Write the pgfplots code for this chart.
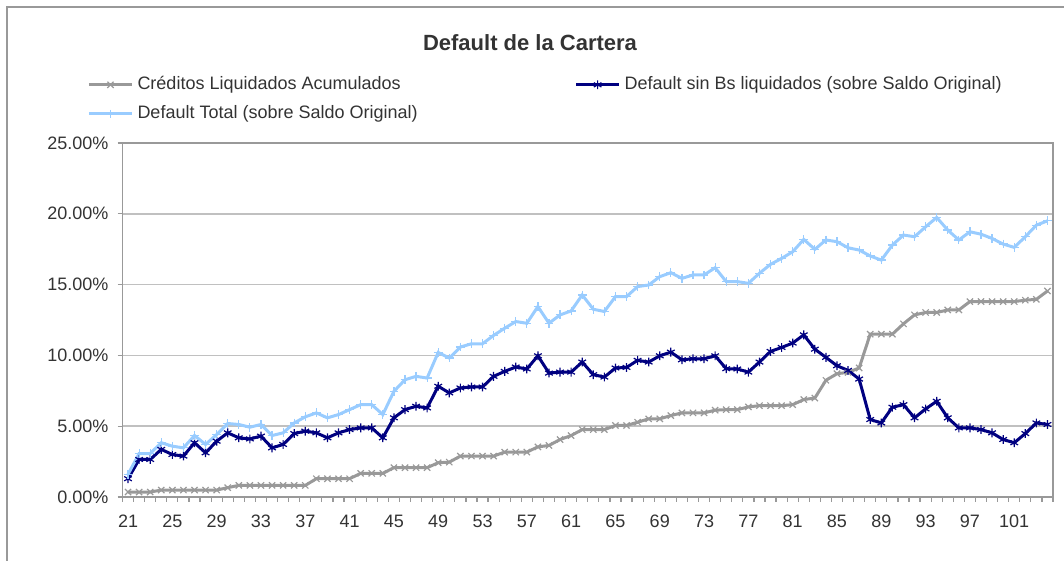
\documentclass[border=0pt]{standalone}
\usepackage{fontspec}
\setmainfont{Liberation Sans}
\usepackage{pgfplots}
\usepackage{pgfplotstable}
\pgfplotsset{compat=1.18}
\definecolor{credgray}{HTML}{999999}
\definecolor{navyblue}{HTML}{000080}
\definecolor{skyblue}{HTML}{99CCFF}
\definecolor{gridgray}{HTML}{C0C0C0}
\definecolor{axisgray}{HTML}{999999}
\definecolor{txt}{HTML}{333333}

% mes, creditos liquidados, default sin Bs, default total (en %)
\pgfplotstableread{
x   liq    sinbs  total
21  0.35   1.29   1.60
22  0.35   2.65   3.07
23  0.35   2.65   3.07
24  0.49   3.36   3.83
25  0.49   3.00   3.59
26  0.49   2.89   3.47
27  0.49   3.83   4.34
28  0.49   3.12   3.71
29  0.49   3.94   4.41
30  0.66   4.53   5.19
31  0.82   4.18   5.12
32  0.82   4.10   4.93
33  0.82   4.30   5.12
34  0.82   3.47   4.34
35  0.82   3.71   4.53
36  0.82   4.48   5.23
37  0.82   4.65   5.66
38  1.29   4.53   5.94
39  1.29   4.18   5.59
40  1.29   4.53   5.82
41  1.29   4.76   6.17
42  1.67   4.88   6.52
43  1.67   4.88   6.52
44  1.67   4.18   5.82
45  2.07   5.59   7.46
46  2.07   6.17   8.28
47  2.07   6.41   8.52
48  2.07   6.29   8.40
49  2.42   7.82   10.21
50  2.46   7.35   9.81
51  2.89   7.70   10.59
52  2.89   7.77   10.82
53  2.89   7.77   10.82
54  2.89   8.52   11.41
55  3.17   8.87   11.92
56  3.17   9.18   12.39
57  3.17   9.04   12.27
58  3.54   9.97   13.45
59  3.64   8.75   12.27
60  4.06   8.82   12.86
61  4.34   8.82   13.14
62  4.76   9.53   14.27
63  4.76   8.64   13.26
64  4.76   8.47   13.10
65  5.05   9.11   14.15
66  5.05   9.15   14.15
67  5.28   9.65   14.86
68  5.52   9.53   14.97
69  5.52   9.97   15.56
70  5.75   10.23  15.84
71  5.94   9.69   15.44
72  5.94   9.76   15.68
73  5.94   9.76   15.68
74  6.13   9.97   16.19
75  6.17   9.06   15.21
76  6.17   9.04   15.21
77  6.36   8.82   15.09
78  6.45   9.53   15.80
79  6.45   10.28  16.43
80  6.45   10.56  16.85
81  6.52   10.87  17.32
82  6.88   11.45  18.19
83  6.99   10.44  17.49
84  8.24   9.86   18.15
85  8.71   9.27   18.03
86  8.80   8.94   17.60
87  9.11   8.33   17.44
88  11.50  5.47   17.02
89  11.50  5.23   16.73
90  11.50  6.34   17.79
91  12.23  6.52   18.50
92  12.86  5.59   18.38
93  13.03  6.22   19.08
94  13.03  6.76   19.74
95  13.21  5.59   18.85
96  13.21  4.88   18.15
97  13.80  4.88   18.73
98  13.80  4.76   18.56
99  13.80  4.53   18.26
100 13.80  4.06   17.86
101 13.80  3.83   17.63
102 13.90  4.48   18.38
103 13.96  5.23   19.20
104 14.55  5.12   19.50
}\cartera

\begin{document}
\begin{tikzpicture}
\path[use as bounding box] (0,0) rectangle (532pt,280.5pt);
\draw[axisgray,line width=0.75pt] (3.5pt,-2pt) -- (3.5pt,277pt) -- (534pt,277pt);
\node[font=\bfseries\fontsize{11}{13}\selectfont,text=txt] at (265pt,259pt) {Default de la Cartera};
\begin{axis}[at={(61.25pt,32pt)},anchor=south west,scale only axis,
 width=465.25pt,height=177pt,
 xmin=20.5,xmax=104.5,ymin=0,ymax=25,
 axis line style={axisgray,line width=0.75pt},
 ymajorgrids=true,grid style={gridgray,line width=0.75pt},
 ytick={0,5,10,15,20,25},
 yticklabels={0.00\%,5.00\%,10.00\%,15.00\%,20.00\%,25.00\%},
 xtick={21,25,...,101},
 xticklabels={21,25,29,33,37,41,45,49,53,57,61,65,69,73,77,81,85,89,93,97,101},
 minor xtick={20.5,21.5,...,104.5},
 tick align=outside,tick pos=left,
 tick style={axisgray,line width=0.6pt},
 major x tick style={draw=none},
 minor tick length=2.5pt,major tick length=2.5pt,
 tick label style={font=\fontsize{9}{10}\selectfont,text=txt},
 yticklabel style={xshift=-1pt},
 xticklabel style={yshift=-3pt},
 legend columns=2,legend cell align=left,
 legend style={draw=none,fill=none,font=\fontsize{9}{10}\selectfont,text=txt,
   at={(-0.0445,1.211)},anchor=north west,row sep=2.5pt,
   /tikz/every even column/.append style={column sep=76.5pt}},
 legend image code/.code={\draw[mark repeat=2,mark phase=2,#1] plot coordinates {(0pt,0pt) (10.75pt,0pt) (21.5pt,0pt)};},
 every axis plot/.append style={line width=1.5pt,mark size=2.2pt,
   mark options={line width=0.6pt,solid}}]
\addplot[credgray,mark=x] table[x=x,y=liq] {\cartera};
\addlegendentry{Créditos Liquidados Acumulados}
\addplot[navyblue,mark=asterisk] table[x=x,y=sinbs] {\cartera};
\addlegendentry{Default sin Bs liquidados (sobre Saldo Original)}
\addplot[skyblue,mark=+] table[x=x,y=total] {\cartera};
\addlegendentry{Default Total (sobre Saldo Original)}
\end{axis}
\end{tikzpicture}
\end{document}
